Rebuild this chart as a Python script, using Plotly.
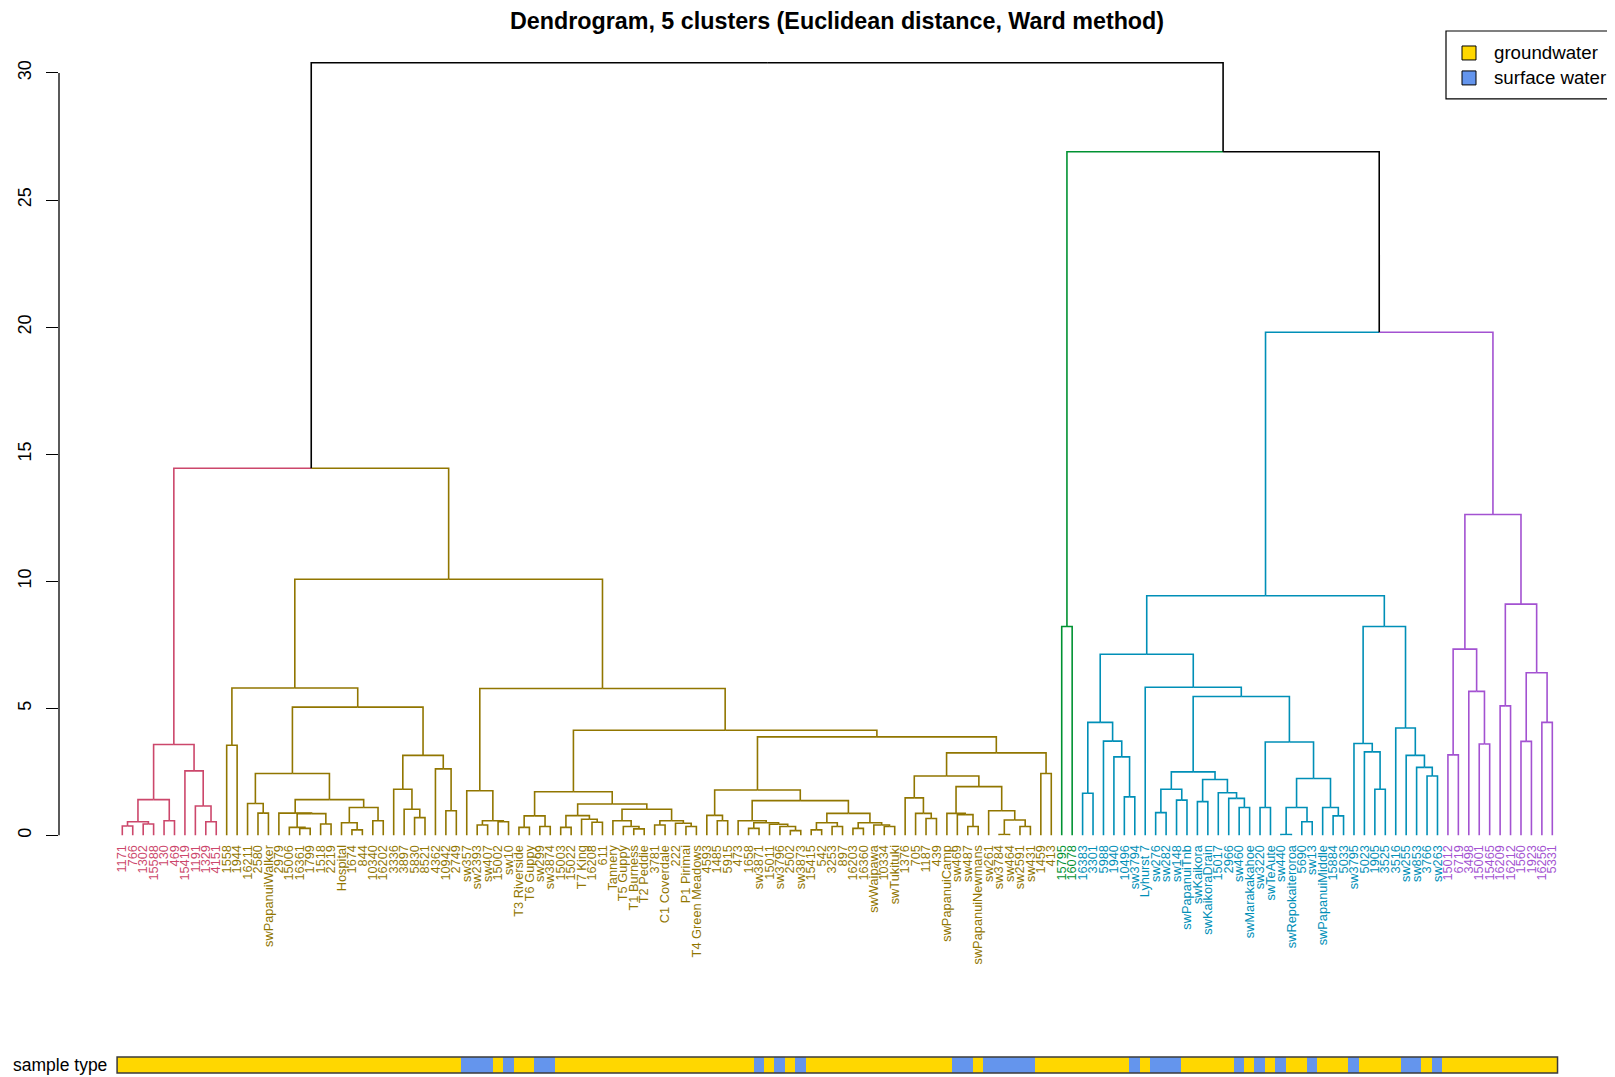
import plotly.graph_objects as go

# ---------------- data ----------------
title_text = "Dendrogram, 5 clusters (Euclidean distance, Ward method)"
cluster_colors = ["#CC476B", "#917600", "#009232", "#008FB7", "#A352D1"]
black = "#000000"

# Trees: (merge height, left, right); leaves are sample labels
pink_tree = (3.58,
             (1.41, (0.54, (0.37, "1171", "766"), (0.45, "1302", "15588")), (0.58, "130", "469")),
             (2.54, "15419", (1.16, "1191", (0.54, "1329", "4151"))))

olive_left = (5.80, (3.55, "1558", "1944"),
              (5.05,
               (2.44,
                (1.26, "16211", (0.88, "2580", "swPapanuiWalker")),
                (1.41,
                 (0.88, "2979", (0.86, (0.32, "15006", (0.28, "16361", "1799")), (0.45, "1518", "2219"))),
                 (1.10, (0.50, "Hospital", (0.22, "1674", "844")), (0.58, "10340", "16202")))),
               (3.15,
                (1.82, "3336", (1.03, "3897", (0.70, "5830", "8521"))),
                (2.62, "4362", (0.97, "10942", "2749")))))

olive_t3 = (1.72,
            (0.77, (0.32, "T3 Riverside", "T6 Guppy"), (0.35, "sw299", "sw3874")),
            (1.24,
             (0.78, (0.32, "15003", "15022"), (0.64, "T7 King", (0.52, "16208", "611"))),
             (1.03,
              (0.58, "Tannery", (0.35, "T5 Guppy", (0.26, "T1 Burness", "T2 Peddie"))),
              (0.58, (0.41, "3781", "C1 Coverdale"), (0.48, "222", (0.35, "P1 Pirimai", "T4 Green Meadows"))))))

olive_xl = (1.79,
            (0.79, "4593", (0.58, "1485", "5915")),
            (1.37,
             (0.58, "473", (0.50, (0.28, "1658", "sw3871"),
                            (0.44, "15011", (0.35, "sw3796", (0.19, "2502", "sw3873"))))),
             (0.87,
              (0.50, (0.22, "15415", "542"), (0.35, "3253", "897")),
              (0.50, (0.28, "16203", "16360"), (0.41, "swWaipawa", (0.35, "10334", "swTukituki"))))))

olive_xr = (3.25,
            (2.34,
             (1.48, "1376", (0.87, "705", (0.67, "1187", "439"))),
             (1.92,
              (0.87, "swPapanuiCamp", (0.82, "sw469", (0.35, "sw487", "swPapanuiNewmans"))),
              (0.97, "sw261", (0.61, (0.04, "sw3784", "sw464"), (0.35, "sw2591", "sw431"))))),
            (2.44, "1459", "413"))

olive_right = (5.78,
               (1.76, "sw357", (0.58, (0.41, "sw2393", "sw407"), (0.54, "15002", "sw10"))),
               (4.14, olive_t3, (3.88, olive_xl, olive_xr)))

olive_tree = (10.08, olive_left, olive_right)

green_tree = (8.22, "15795", "16078")

blue_g1 = (4.45, (1.66, "16383", "3301"), (3.71, "5988", (3.09, "1940", (1.52, "10496", "sw3794"))))
blue_g2 = (2.50,
           (1.82, (0.90, "sw276", "sw282"), (1.39, "sw148", "swPapanuiTnb")),
           (2.20, (1.33, "swKaikora", "swKaikoraDrain"),
            (1.68, "15017", (1.46, "2966", (1.10, "sw460", "swMarakakahoe")))))
blue_g3 = (3.68,
           (1.10, "sw3220", "swTeAute"),
           (2.24,
            (1.10, (0.04, "sw440", "swRepokaiteroroa"), (0.54, "5690", "sw13")),
            (1.10, "swPapanuiMiddle", (0.77, "15884", "5033"))))
blue_b3 = (8.22,
           (3.62, "sw3795", (3.29, "5023", (1.82, "1905", "3525"))),
           (4.23, "3516", (3.15, "sw255", (2.68, "sw853", (2.34, "3766", "sw263")))))
blue_tree = (9.43, (7.13, blue_g1, (5.83, "Lyhurst 7", (5.47, blue_g2, blue_g3))), blue_b3)

purple_tree = (12.63,
               (7.33, (3.17, "15012", "6719"), (5.67, "3498", (3.60, "15001", "15465"))),
               (9.10, (5.10, "16209", "16212"), (6.40, (3.70, "1560", "1923"), (4.45, "16256", "5331"))))

cluster_trees = [pink_tree, olive_tree, green_tree, blue_tree, purple_tree]
# merges above the clusters; integers refer to cluster_trees
upper_tree = (30.4, (14.45, 0, 1), (26.9, 2, (19.8, 3, 4)))

surface_water = ["sw357", "sw2393", "sw407", "sw10", "sw299", "sw3874", "sw3871", "sw3796",
                 "sw3873", "sw469", "sw487", "sw261", "sw3784", "sw464", "sw2591", "sw431",
                 "sw3794", "sw276", "sw282", "sw148", "sw460", "sw3220", "sw440", "sw13",
                 "sw3795", "sw255", "sw853", "sw263"]
type_colors = {"groundwater": "#FFD700", "surface water": "#6495ED"}
y_ticks = [0, 5, 10, 15, 20, 25, 30]

# ---------------- layout of the tree ----------------
leaf_labels, leaf_colors = [], []
segs = {}


def add_edge(color, px, ph, cx, ch):
    xs, ys = segs.setdefault(color, ([], []))
    xs += [px, cx, cx, None]
    ys += [ph, ph, ch, None]


def place(node, color):
    if isinstance(node, int):
        return place(cluster_trees[node], cluster_colors[node])
    if isinstance(node, str):
        leaf_labels.append(node)
        leaf_colors.append(color)
        return len(leaf_labels) - 1, 0.0, color
    h, a, b = node
    xa, ha, ca = place(a, color)
    xb, hb, cb = place(b, color)
    x = (xa + xb) / 2
    add_edge(ca, x, h, xa, ha)
    add_edge(cb, x, h, xb, hb)
    return x, h, color


place(upper_tree, black)
n = len(leaf_labels)

# the page body adds an 8px offset; work in screenshot pixels minus OFF
OFF = 8
W, H = 1615 - OFF, 1077 - OFF
ML, MR, MT, MB = 59 - OFF, 0, 32, 0
PW, PH = W - ML - MR, H - MT - MB
leaf0_px, leaf_step = 122.3 - OFF, 10.438
x0 = -(leaf0_px - ML) / leaf_step
x1 = x0 + PW / leaf_step
y0_px, y30_px = 837 - OFF, 73 - OFF
unit = (y0_px - y30_px) / 30.0
y_top = (y0_px - MT) / unit
main_bottom = (H - MB - y0_px) / PH
bar_top_px, bar_bot_px = 1059 - OFF, 1075 - OFF
bar_dom = [(H - MB - bar_bot_px) / PH, (H - MB - bar_top_px) / PH]


def px2paper_x(px):
    return (px - OFF - ML) / PW


def px2paper_y(py):
    return (H - MB - (py - OFF)) / PH


fig = go.Figure()
for color, (xs, ys) in segs.items():
    fig.add_trace(go.Scatter(x=xs, y=ys, mode="lines", line=dict(color=color, width=1.6),
                             hoverinfo="skip", showlegend=False))

types = [1 if lab in surface_water else 0 for lab in leaf_labels]
fig.add_trace(go.Heatmap(x=list(range(n)), y=[0], z=[types], xaxis="x2", yaxis="y2",
                         zmin=0, zmax=1, showscale=False, hoverinfo="skip",
                         colorscale=[[0, type_colors["groundwater"]], [0.5, type_colors["groundwater"]],
                                     [0.5, type_colors["surface water"]], [1, type_colors["surface water"]]]))

ticktext = ['<span style="color:%s">%s</span>' % (c, l) for l, c in zip(leaf_labels, leaf_colors)]

shapes = [
    dict(type="line", xref="paper", yref="y", x0=0, x1=0, y0=0, y1=30, line=dict(color="black", width=1.3)),
    dict(type="rect", xref="x", yref="y2 domain", x0=-0.5, x1=n - 0.5, y0=0, y1=1,
         line=dict(color="#3a3a3a", width=1.5)),
    # legend box
    dict(type="rect", xref="paper", yref="paper", x0=px2paper_x(1446), x1=px2paper_x(1614),
         y0=px2paper_y(99), y1=px2paper_y(31), line=dict(color="black", width=1.2), fillcolor="white"),
    dict(type="rect", xref="paper", yref="paper", x0=px2paper_x(1462), x1=px2paper_x(1476),
         y0=px2paper_y(60), y1=px2paper_y(46), line=dict(color="black", width=1),
         fillcolor=type_colors["groundwater"]),
    dict(type="rect", xref="paper", yref="paper", x0=px2paper_x(1462), x1=px2paper_x(1476),
         y0=px2paper_y(85), y1=px2paper_y(71), line=dict(color="black", width=1),
         fillcolor=type_colors["surface water"]),
]

annotations = [
    dict(text="groundwater", xref="paper", yref="paper", x=px2paper_x(1492), y=px2paper_y(53),
         xanchor="left", yanchor="middle", showarrow=False, font=dict(size=18.7, color="black")),
    dict(text="surface water", xref="paper", yref="paper", x=px2paper_x(1492), y=px2paper_y(78),
         xanchor="left", yanchor="middle", showarrow=False, font=dict(size=18.7, color="black")),
    dict(text="sample type", xref="paper", yref="paper", x=px2paper_x(11), y=px2paper_y(1067),
         xanchor="left", yanchor="middle", showarrow=False, font=dict(size=17.5, color="black")),
]

fig.update_layout(
    width=W, height=H,
    margin=dict(l=ML, r=MR, t=MT, b=MB),
    paper_bgcolor="white", plot_bgcolor="white",
    font=dict(family="Liberation Sans, Arial, sans-serif", color="black"),
    title=dict(text="<b>%s</b>" % title_text, x=0.5, xref="paper", xanchor="center",
               y=1 - (21 - OFF) / H, yref="container", yanchor="middle",
               font=dict(size=23.3, color="black")),
    xaxis=dict(range=[x0, x1], domain=[0, 1], anchor="y", tickmode="array",
               tickvals=list(range(n)), ticktext=ticktext, tickangle=-90,
               tickfont=dict(size=12.8), ticks="", showgrid=False, zeroline=False,
               showline=False, ticklabelstandoff=6),
    yaxis=dict(range=[0, y_top], domain=[main_bottom, 1], anchor="x", tickmode="array",
               tickvals=y_ticks, ticktext=[str(v) for v in y_ticks], tickangle=-90,
               ticks="outside", ticklen=12, tickwidth=1.3, tickcolor="black",
               tickfont=dict(size=18), showgrid=False, zeroline=False, showline=False,
               ticklabelstandoff=8),
    xaxis2=dict(matches="x", anchor="y2", visible=False, domain=[0, 1]),
    yaxis2=dict(domain=bar_dom, anchor="x2", visible=False, range=[-0.5, 0.5]),
    shapes=shapes, annotations=annotations, showlegend=False,
)

fig.write_html("out.html")
